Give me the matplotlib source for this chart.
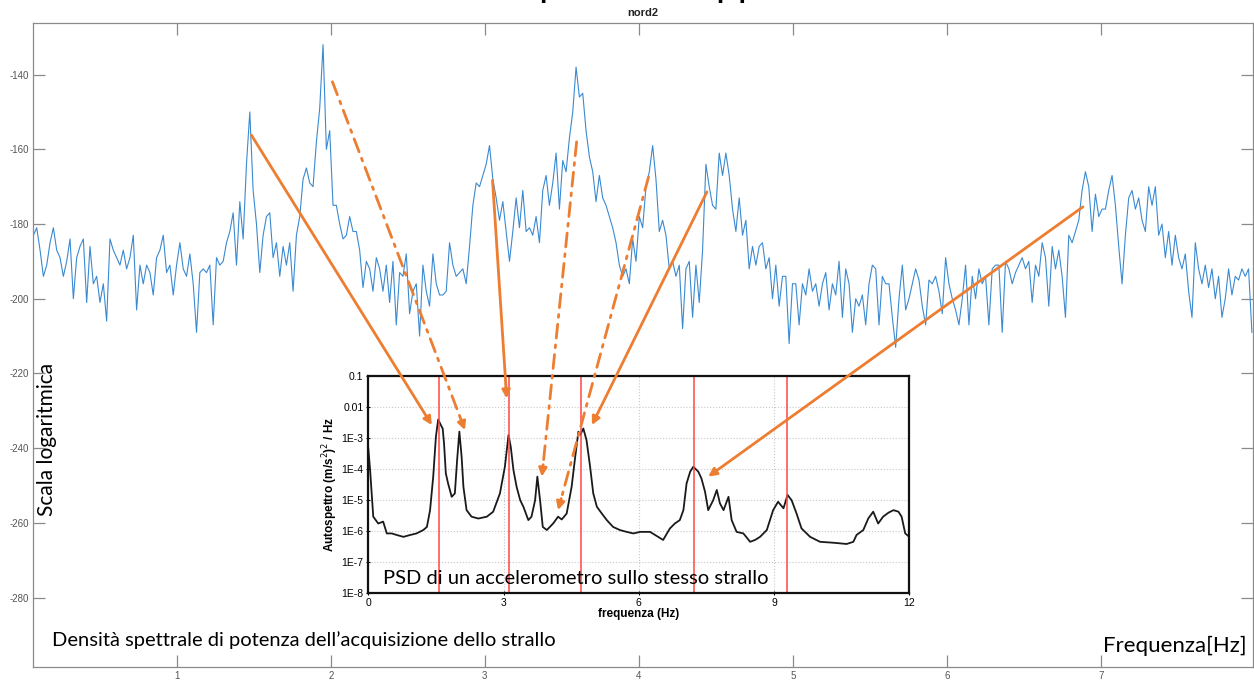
import numpy as np
import matplotlib.pyplot as plt
from matplotlib.patches import ConnectionPatch

plt.rcParams['axes.unicode_minus'] = False

# main spectrum (dB), uniform frequency step
f_start = 0.0683
f_step = 0.02162
psd_db = [
    -183, -181, -187, -194, -191, -185, -181, -187, -189, -194,
    -190, -184, -200, -189, -186, -184, -201, -186, -196, -194,
    -201, -196, -206, -184, -187, -189, -191, -187, -192, -189,
    -183, -203, -191, -196, -191, -193, -199, -189, -187, -183,
    -193, -191, -199, -191, -185, -192, -194, -188, -196, -209,
    -193, -192, -193, -191, -207, -189, -191, -190, -185, -182,
    -177, -191, -174, -184, -164, -150, -171, -180, -193, -183,
    -178, -177, -189, -185, -194, -186, -191, -185, -198, -183,
    -178, -168, -165, -169, -170, -158, -149, -132, -160, -155,
    -175, -175, -180, -184, -183, -178, -182, -182, -187, -197,
    -190, -192, -198, -189, -192, -198, -191, -201, -190, -207,
    -193, -194, -188, -204, -198, -196, -210, -191, -198, -202,
    -188, -196, -199,
    -199, -198, -185, -191, -194, -193, -192, -196, -186, -175,
    -169, -170, -167, -164, -159, -168, -173, -179, -174, -182,
    -190, -182, -173, -181, -171, -182, -181, -183, -178, -185,
    -171, -167, -175, -169, -161, -176, -163, -166, -157, -150,
    -138, -146, -145, -155, -162, -166, -174, -167, -173, -175,
    -178, -181, -185, -191, -194, -192, -196, -184, -190, -178,
    -181, -170, -166, -159, -168, -182, -179, -183, -192, -190,
    -194, -191, -208, -192, -190, -205, -191, -201, -187, -164,
    -170, -175, -176, -161, -167, -161, -167, -176, -182, -173,
    -183, -179, -192, -186, -191, -186, -185, -192, -189, -200,
    -191, -202, -194, -194, -212, -196, -196, -207, -196, -199,
    -192, -198, -196, -202, -196, -193, -203, -196, -199, -190,
    -205, -192, -196,
    -209, -200, -202, -199, -207, -196, -191, -192, -207, -194,
    -196, -196, -205, -213, -200, -191, -203, -200, -196, -192,
    -195, -202, -207, -195, -196, -194, -198, -204, -189, -196,
    -200, -203, -207, -200, -191, -207, -194, -200, -192, -196,
    -194, -207, -192, -191, -191, -209, -190, -192, -196, -193,
    -191, -189, -192, -190, -201, -191, -194, -185, -189, -202,
    -186, -192, -187, -194, -205, -183, -185, -182, -179, -171,
    -166, -170, -182, -172, -178, -176, -176, -171, -167, -175,
    -186, -196, -183, -173, -171, -176, -173, -179, -182, -170,
    -175, -170, -183, -180, -189, -182, -191, -183, -189, -192,
    -188, -198, -205, -185, -192, -196, -191, -197, -192, -200,
    -194, -205, -200, -192, -199, -194, -195, -192, -194, -192, -209,
]
freq = f_start + f_step * np.arange(len(psd_db))

# accelerometer autospectrum (inset): frequency [Hz], log10 of PSD
acc_freq = [0.0, 0.04, 0.11, 0.22, 0.33, 0.41, 0.52, 0.63, 0.78, 0.93,
            1.07, 1.22, 1.30, 1.37, 1.44, 1.50, 1.55, 1.61, 1.65, 1.68,
            1.72, 1.77, 1.85, 1.92, 1.97, 2.02, 2.07, 2.11, 2.18, 2.29,
            2.44, 2.63, 2.77, 2.92, 3.03, 3.11, 3.16, 3.22, 3.29, 3.37,
            3.44, 3.55, 3.62, 3.70, 3.75, 3.81, 3.87, 3.96, 4.10, 4.21,
            4.29, 4.40, 4.51, 4.59, 4.66, 4.70, 4.77, 4.84, 4.92, 4.99,
            5.07, 5.18, 5.29, 5.43, 5.58, 5.73, 5.88, 6.03, 6.25, 6.54,
            6.69, 6.80, 6.91, 6.99, 7.06, 7.14, 7.21, 7.32, 7.39, 7.47,
            7.54, 7.65, 7.73, 7.80, 7.88, 7.99, 8.06, 8.17, 8.32, 8.47,
            8.58, 8.69, 8.84, 8.98, 9.09, 9.21, 9.30, 9.39, 9.50, 9.61,
            9.80, 10.02, 10.32, 10.61, 10.76, 10.83, 10.98, 11.09, 11.20, 11.31,
            11.42, 11.54, 11.65, 11.76, 11.83, 11.91, 12.0]
acc_exp = [-3.33, -4.03, -5.53, -5.75, -5.69, -6.07, -6.07, -6.12, -6.18, -6.12,
           -6.07, -5.96, -5.86, -5.32, -4.24, -2.95, -2.40, -2.58, -2.69, -3.17,
           -4.14, -4.46, -4.89, -4.78, -3.71, -2.79, -3.60, -4.57, -5.32, -5.53,
           -5.59, -5.53, -5.37, -4.78, -3.92, -2.90, -3.28, -4.03, -4.57, -5.00,
           -5.21, -5.64, -5.53, -5.00, -4.24, -5.00, -5.86, -5.96, -5.75, -5.53,
           -5.62, -5.43, -4.57, -3.60, -2.79, -2.90, -2.69, -3.06, -3.92, -4.78,
           -5.21, -5.43, -5.64, -5.86, -5.96, -6.02, -6.07, -6.02, -6.02, -6.28,
           -5.91, -5.75, -5.64, -5.32, -4.46, -4.08, -3.92, -4.08, -4.30, -4.73,
           -5.32, -5.00, -4.67, -5.10, -5.32, -4.89, -5.64, -6.02, -6.07, -6.34,
           -6.28, -6.18, -5.96, -5.32, -5.05, -5.26, -4.83, -5.00, -5.43, -5.91,
           -6.18, -6.34, -6.37, -6.41, -6.34, -6.12, -5.96, -5.59, -5.37, -5.75,
           -5.53, -5.40, -5.32, -5.37, -5.53, -6.07, -6.18]
acc_psd = 10.0 ** np.array(acc_exp)

modes = [1.575, 3.12, 4.72, 7.22, 9.29]

# arrows: (freq main, dB main, freq inset, log10 inset, dashed?)
arrows = [
    (1.484, -156.2, 1.41, -2.58, False),
    (2.010, -141.9, 2.145, -2.74, True),
    (3.050, -168.3, 3.07, -1.72, False),
    (3.596, -158.0, 3.85, -4.24, True),
    (4.063, -167.4, 4.21, -5.32, True),
    (4.442, -171.4, 4.96, -2.58, False),
    (6.884, -175.4, 7.54, -4.24, False),
]

W, H = 1254, 682
fig = plt.figure(figsize=(W / 100, H / 100), dpi=100)
ax = fig.add_axes([0.0266, 0.022, 0.9728, 0.9447])
ax.plot(freq, psd_db, color='#3a8ad2', lw=0.8)
ax.set_xlim(0.068, 7.99)
ax.set_ylim(-298.6, -126.1)
ax.set_xticks(range(1, 8))
ax.set_yticks(range(-280, -139, 20))
ax.tick_params(direction='in', length=8.5, width=0.9, color='#8a8a8a',
               labelsize=7, labelcolor='#555555', top=True, right=True, pad=3)
for lab in ax.get_xticklabels() + ax.get_yticklabels():
    lab.set_family('Liberation Sans')
for s in ax.spines.values():
    s.set_color('#8a8a8a')
    s.set_linewidth(0.9)
ax.set_title('nord2', fontsize=8, fontweight='bold', color='#222222', pad=5,
             family='Liberation Sans')

ins = fig.add_axes([0.2937, 0.130, 0.4314, 0.3186])
ins.set_yscale('log')
ins.plot(acc_freq, acc_psd, color='#1a1a1a', lw=1.3)
for m in modes:
    ins.axvline(m, color='#ff4545', lw=1.1)
ins.set_xlim(0, 12)
ins.set_ylim(1e-8, 0.1)
ins.set_xticks([0, 3, 6, 9, 12])
dec = [1e-8, 1e-7, 1e-6, 1e-5, 1e-4, 1e-3, 1e-2, 1e-1]
ins.set_yticks(dec)
ins.set_yticklabels(['1E-8', '1E-7', '1E-6', '1E-5', '1E-4', '1E-3', '0.01', '0.1'])
ins.minorticks_off()
ins.grid(True, color='#c8c8c8', ls=':', lw=0.8)
ins.tick_params(labelsize=7.5, length=3, direction='inout', pad=2)
for lab in ins.get_xticklabels() + ins.get_yticklabels():
    lab.set_family('Liberation Sans')
for s in ins.spines.values():
    s.set_linewidth(1.6)
    s.set_color('#111111')
ins.set_xlabel('frequenza (Hz)', fontsize=8.5, fontweight='bold', labelpad=0,
               family='Liberation Sans')
ins.set_ylabel('Autospettro (m/s$^2$)$^2$ / Hz', fontsize=8.5, fontweight='bold',
               labelpad=1, family='Liberation Sans')

txt = dict(family='Lato', color='black')
fig.text(383 / W, 1 - 578 / H, 'PSD di un accelerometro sullo stesso strallo',
         fontsize=14.5, va='center', ha='left', **txt)
fig.text(47 / W, 1 - 439 / H, 'Scala logaritmica', fontsize=15, rotation=90,
         va='center', ha='center', **txt)
fig.text(52 / W, 1 - 640 / H, 'Densità spettrale di potenza dell’acquisizione dello strallo',
         fontsize=14.5, va='center', ha='left', **txt)
fig.text(1247 / W, 1 - 646 / H, 'Frequenza[Hz]', fontsize=16, va='center', ha='right', **txt)
# slide title cut by the top edge: only the descenders show
fig.text(518 / W, 1 + 4 / H, 'Spettro di applicazione', fontsize=28,
         va='baseline', ha='left', **txt)

# arrows from the main-spectrum peaks to the inset peaks
orange = '#ed7d31'
for fm, dbm, fa, ea, dashed in arrows:
    pa = ax.transData.transform((fm, dbm))
    pb = ins.transData.transform((fa, 10.0 ** ea))
    if dashed:
        u = (pb - pa) / np.hypot(*(pb - pa))
        pc = pb - 10 * u
        line = ConnectionPatch(pa, pc, 'figure pixels', 'figure pixels',
                               arrowstyle='-', color=orange, lw=2,
                               linestyle=(0, (5, 2.5, 1, 2.5)))
        fig.add_artist(line)
        head = ConnectionPatch(pc - 2 * u, pb, 'figure pixels', 'figure pixels',
                               arrowstyle='-|>', color=orange, lw=2,
                               mutation_scale=12, shrinkA=0, shrinkB=0)
        fig.add_artist(head)
    else:
        arr = ConnectionPatch(pa, pb, 'figure pixels', 'figure pixels',
                              arrowstyle='-|>', color=orange, lw=2,
                              mutation_scale=12, shrinkA=0, shrinkB=0)
        fig.add_artist(arr)

fig.savefig('out.png', dpi=100)
